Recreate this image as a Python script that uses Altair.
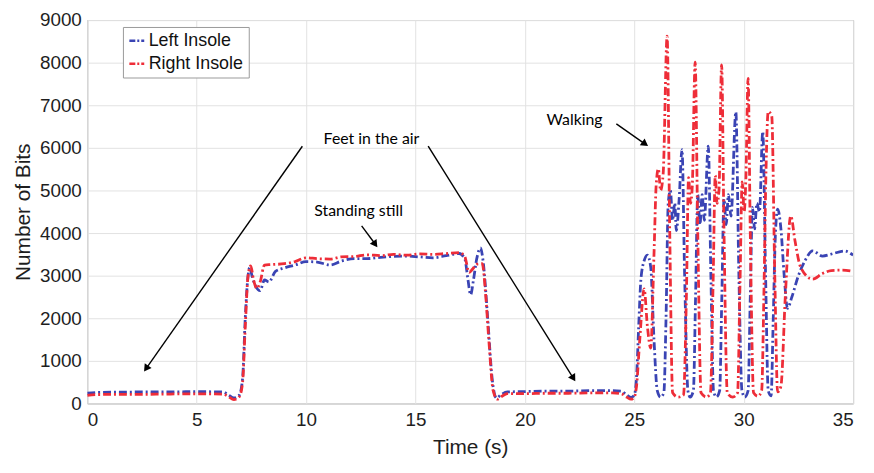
import altair as alt
import pandas as pd

# ---- data ----
left_t = [0, 0.5, 1.5, 2.5, 3.5, 4.5, 5.5, 6.2, 6.45, 6.7, 6.95, 7.1, 7.22, 7.33, 7.42, 7.55, 7.7, 7.9, 8.1, 8.3,
          8.6, 9.0, 9.5, 10.0, 10.5, 11.1, 11.6, 12.2, 12.8, 13.4, 14.0, 14.6, 15.2, 15.8, 16.4, 17.0, 17.25, 17.4,
          17.52, 17.65, 17.8, 17.97, 18.1, 18.3, 18.5, 18.7, 18.9, 19.2, 20, 21, 22, 23, 24, 24.4, 24.65, 24.85,
          25.0, 25.1, 25.2, 25.3, 25.45, 25.6, 25.75, 25.9, 26.05, 26.2, 26.35, 26.45, 26.55, 26.65, 26.75, 26.85,
          26.92, 27.05, 27.18, 27.3, 27.45, 27.55, 27.7, 27.8, 27.9, 28.0, 28.1, 28.2, 28.38, 28.5, 28.62, 28.75,
          28.9, 29.0, 29.1, 29.2, 29.3, 29.42, 29.64, 29.78, 29.92, 30.05, 30.2, 30.3, 30.4, 30.5, 30.6, 30.72,
          30.87, 31.0, 31.12, 31.25, 31.35, 31.45, 31.55, 31.7, 31.85, 32.0, 32.2, 32.5, 32.8, 33.15, 33.6, 34.1,
          34.6, 35.0]
left_v = [240, 260, 265, 270, 270, 275, 275, 270, 200, 130, 200, 600, 2000, 2900, 3190, 2950, 2750, 2650, 2900, 2850,
          3100, 3180, 3250, 3330, 3320, 3250, 3340, 3400, 3400, 3430, 3450, 3460, 3440, 3420, 3470, 3520, 3400, 2900,
          2550, 2900, 3400, 3650, 3300, 2000, 600, 130, 200, 270, 280, 290, 290, 300, 300, 290, 200, 140,
          200, 600, 1800, 2900, 3350, 3480, 3200, 1500, 300, 150, 250, 2000, 4700, 5000, 4300, 4700,
          4060, 4800, 5960, 3000, 300, 150, 300, 2500, 4900, 4200, 4900, 4300, 6040, 3000, 300, 150,
          300, 2500, 4800, 4200, 4900, 4400, 6840, 3000, 300, 150, 300, 2500, 4600, 4100, 4700, 4500,
          6380, 3000, 300, 180, 2000, 4000, 4560, 4100, 3000, 2230, 2500, 3000, 3350, 3580, 3460, 3520,
          3580, 3480]

right_t = [0, 0.5, 1.5, 2.5, 3.5, 4.5, 5.5, 6.2, 6.45, 6.7, 6.95, 7.1, 7.22, 7.35, 7.47, 7.6, 7.75, 7.9, 8.1, 8.4,
           9.0, 9.5, 10.0, 10.5, 11.1, 11.6, 12.2, 12.8, 13.4, 14.0, 14.6, 15.2, 15.8, 16.4, 17.0, 17.25, 17.45,
           17.6, 17.82, 18.05, 18.2, 18.35, 18.55, 18.75, 18.95, 19.2, 20, 21, 22, 23, 24, 24.4, 24.65, 24.85,
           25.0, 25.1, 25.25, 25.45, 25.6, 25.75, 25.9, 26.0, 26.1, 26.2, 26.32, 26.5, 26.62, 26.75, 27.0, 27.25,
           27.38, 27.48, 27.57, 27.65, 27.78, 27.9, 28.05, 28.3, 28.48, 28.6, 28.7, 28.78, 28.87, 28.99, 29.1,
           29.25, 29.5, 29.72, 29.83, 29.93, 30.02, 30.1, 30.2, 30.3, 30.45, 30.65, 30.82, 30.92, 31.02, 31.12,
           31.28, 31.42, 31.55, 31.7, 31.9, 32.15, 32.35, 32.6, 33.15, 33.6, 34.0, 34.5, 35.0]
right_v = [190, 210, 215, 215, 220, 225, 225, 220, 160, 90, 160, 500, 1800, 3000, 3230, 2900, 2700, 2850, 3250, 3260,
           3280, 3330, 3420, 3400, 3390, 3440, 3450, 3490, 3470, 3500, 3480, 3510, 3500, 3520, 3540, 3450, 3075,
           3150, 3270, 3280, 2600, 1500, 300, 100, 170, 230, 230, 240, 240, 250, 250, 230, 150, 100,
           150, 400, 1500, 2690, 1800, 1300, 3500, 5130, 5510, 5000, 5400, 8620, 4000, 250, 150, 200,
           2500, 5300, 4700, 5100, 8010, 4000, 250, 150, 250, 2800, 5350, 4700, 5000, 7950, 4000,
           250, 150, 250, 2800, 5200, 4500, 5300, 7630, 4000, 250, 170, 300, 2500, 5500, 6850,
           6750, 3000, 270, 400, 2500, 4400, 3800, 3200, 2920, 3050, 3120, 3130, 3100]

series_names = ["Left Insole", "Right Insole"]
series_colors = ["#3a44b4", "#ee2d38"]

x_ticks = [0, 5, 10, 15, 20, 25, 30, 35]
y_ticks = [0, 1000, 2000, 3000, 4000, 5000, 6000, 7000, 8000, 9000]

# annotations (data coordinates)
note_text = ["Feet in the air", "Standing still", "Walking"]
note_x = [12.99, 12.40, 22.27]
note_y = [6198, 4511, 6653]

arrow_x = [9.83, 15.58, 12.54, 24.18]
arrow_y = [6038, 6038, 4170, 6562]
arrow_x2 = [2.72, 22.19, 13.13, 25.45]
arrow_y2 = [843, 615, 3760, 6106]
arrow_angle = [214.5, 148.5, 144.2, 125.5]

# ---- tables ----
left_df = pd.DataFrame({"t": left_t, "v": left_v, "s": series_names[0]})
right_df = pd.DataFrame({"t": right_t, "v": right_v, "s": series_names[1]})
notes_df = pd.DataFrame({"x": note_x, "y": note_y, "label": note_text})
arrows_df = pd.DataFrame({"x": arrow_x, "y": arrow_y, "x2": arrow_x2, "y2": arrow_y2, "ang": arrow_angle})

xscale = alt.Scale(domain=[0, 35], nice=False, zero=False)
yscale = alt.Scale(domain=[0, 9000], nice=False)
cscale = alt.Scale(domain=series_names, range=series_colors)

xaxis = alt.Axis(values=x_ticks, title="Time (s)", grid=True, ticks=False, labelPadding=7,
                 titlePadding=8, domain=False, format="d")
yaxis = alt.Axis(values=y_ticks, title="Number of Bits", grid=True, ticks=False, labelPadding=6,
                 titlePadding=6, domain=False, format="d")

legend = alt.Legend(title=None, orient="none", legendX=36, legendY=7, symbolType="stroke",
                    symbolDash=[6, 2, 2, 2], symbolStrokeWidth=2.5, symbolSize=225,
                    labelFontSize=18, labelFont="Liberation Sans", labelColor="#111",
                    strokeColor="#9a9a9a", fillColor="white", padding=5, rowPadding=5,
                    labelOffset=3, symbolOffset=0)


def line_layer(df):
    return alt.Chart(df).mark_line(strokeWidth=2.8, strokeDash=[8, 3, 2, 3], clip=True,
                                   interpolate="monotone").encode(
        x=alt.X("t:Q", scale=xscale, axis=xaxis),
        y=alt.Y("v:Q", scale=yscale, axis=yaxis),
        color=alt.Color("s:N", scale=cscale, legend=legend),
    )


left_line = line_layer(left_df)
right_line = line_layer(right_df)

arrow_lines = alt.Chart(arrows_df).mark_rule(color="black", strokeWidth=1.4).encode(
    x="x:Q", y="y:Q", x2="x2:Q", y2="y2:Q"
)
arrow_heads = alt.Chart(arrows_df).mark_point(shape="triangle", filled=True, color="black", size=70,
                                              opacity=1).encode(
    x="x2:Q", y="y2:Q", angle=alt.Angle("ang:Q", scale=None)
)
notes = alt.Chart(notes_df).mark_text(font="Lato", fontSize=16, color="black").encode(
    x="x:Q", y="y:Q", text="label:N"
)

chart = alt.layer(left_line, right_line, arrow_lines, arrow_heads, notes).properties(
    width=773, height=387,
    autosize=alt.AutoSizeParams(type="none"),
    padding={"left": 80, "top": 10, "right": 13, "bottom": 66},
).configure_view(stroke="#9a9a9a", strokeWidth=1).configure_axis(
    labelFont="Liberation Sans", titleFont="Liberation Sans", labelFontSize=19, titleFontSize=21,
    labelColor="#1e1e1e", titleColor="#1e1e1e", titleFontWeight="normal", gridColor="#e2e2e2",
    gridWidth=1
)

chart.save("out.html", embed_options={"renderer": "svg", "actions": False})
